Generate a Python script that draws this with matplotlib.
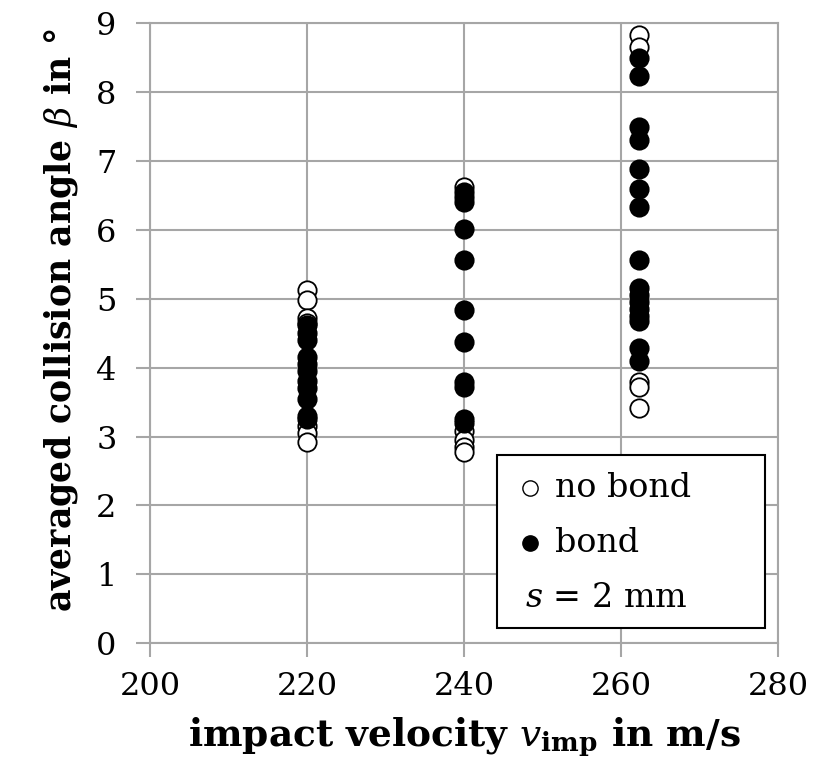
import numpy as np
import matplotlib
matplotlib.use("Agg")
import matplotlib.pyplot as plt
from matplotlib.patches import Rectangle

plt.rcParams['font.family'] = ['DejaVu Serif']
plt.rcParams['mathtext.fontset'] = 'custom'
plt.rcParams['mathtext.rm'] = 'DejaVu Serif'
plt.rcParams['mathtext.it'] = 'DejaVu Serif:italic'
plt.rcParams['mathtext.bf'] = 'DejaVu Serif:bold'

# impact velocities (m/s)
v_220 = 220.0
v_240 = 240.0
v_262 = 262.2

# averaged collision angles (deg)
nobond_220 = [5.12, 4.98, 4.72, 4.65, 3.15, 3.05, 2.92]
bond_220 = [4.62, 4.5, 4.4, 4.15, 4.05, 3.95, 3.8, 3.7, 3.55, 3.3, 3.25]
nobond_240 = [6.62, 3.08, 2.95, 2.85, 2.78]
bond_240 = [6.55, 6.48, 6.4, 6.02, 5.56, 4.83, 4.37, 3.79, 3.72, 3.26, 3.2]
nobond_262 = [8.83, 8.65, 3.79, 3.72, 3.41]
bond_262 = [8.49, 8.24, 7.49, 7.3, 6.89, 6.6, 6.33, 5.56, 5.15, 5.05,
            4.95, 4.85, 4.75, 4.68, 4.28, 4.1]

xticks = [200, 220, 240, 260, 280]
yticks = list(range(0, 10))

grey = '#a6a6a6'

fig = plt.figure(figsize=(8.15, 7.74), dpi=100)
ax = fig.add_axes([0.184, 0.169, 0.771, 0.801])

def col(v, vals):
    return [v] * len(vals)

ax.scatter(col(v_220, nobond_220) + col(v_240, nobond_240) + col(v_262, nobond_262),
           nobond_220 + nobond_240 + nobond_262,
           s=175, facecolor='white', edgecolor='black', linewidth=1.3, zorder=3)
ax.scatter(col(v_220, bond_220) + col(v_240, bond_240) + col(v_262, bond_262),
           bond_220 + bond_240 + bond_262,
           s=175, facecolor='black', edgecolor='black', linewidth=1.3, zorder=4)

ax.set_xlim(200, 280)
ax.set_ylim(0, 9)
ax.set_xticks(xticks)
ax.set_yticks(yticks)
ax.grid(True, color=grey, linewidth=1.5)
ax.set_axisbelow(True)
for sp in ax.spines.values():
    sp.set_color(grey)
    sp.set_linewidth(1.5)
ax.tick_params(colors=grey, labelcolor='black', length=10, width=1.5,
               labelsize=23, direction='out')
ax.tick_params(axis='x', pad=10)
ax.tick_params(axis='y', pad=14)

ax.set_xlabel(r"impact velocity $v_{\mathbf{imp}}$ in m/s", fontsize=27,
              fontweight='bold', labelpad=10)
ax.set_ylabel(r"averaged collision angle $\beta$ in °", fontsize=25,
              fontweight='bold')
ax.yaxis.set_label_coords(-0.111, 0.522)

# legend box
ax.add_patch(Rectangle((0.553, 0.024), 0.426, 0.279, transform=ax.transAxes,
                       facecolor='white', edgecolor='black', linewidth=1.5,
                       zorder=10))
ax.plot([0.605], [0.25], 'o', transform=ax.transAxes, markersize=11,
        markerfacecolor='white', markeredgecolor='black', zorder=11)
ax.plot([0.605], [0.161], 'o', transform=ax.transAxes, markersize=11,
        markerfacecolor='black', markeredgecolor='black', zorder=11)
ax.text(0.645, 0.25, "no bond", transform=ax.transAxes, fontsize=24,
        va='center', zorder=11)
ax.text(0.645, 0.161, "bond", transform=ax.transAxes, fontsize=24,
        va='center', zorder=11)
ax.text(0.597, 0.073, r"$s$ = 2 mm", transform=ax.transAxes, fontsize=24,
        va='center', zorder=11)

fig.savefig("out.png", dpi=100)
